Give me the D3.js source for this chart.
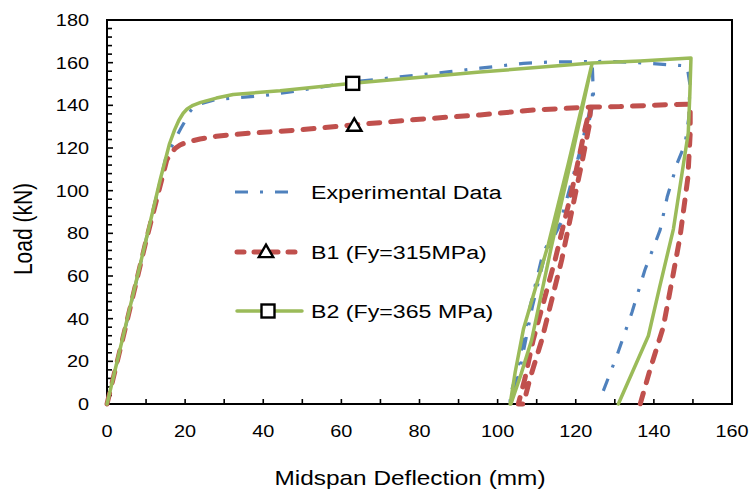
<!DOCTYPE html>
<html>
<head>
<meta charset="utf-8">
<script src="https://cdn.jsdelivr.net/npm/d3@7/dist/d3.min.js"></script>
<style>
  body { margin: 0; background: #fff; }
  svg { display: block; font-family: "Liberation Sans", Arial, sans-serif; }
</style>
</head>
<body>
<div id="chart"></div>
<script>
// values (deflection in mm, load in kN)
const expDefl = [0, 5, 10, 15, 17.8, 19, 20, 21, 22.1, 24, 28, 33.2, 39.2, 46, 63, 87.8, 95.5, 106.6, 113.4, 124.2,
  124.4, 124.2, 121, 116.5, 111.6, 108.3, 104.9, 102.8,
  103.4, 105.5, 108.9, 112.2, 117.1, 121.6, 124.6, 124.2,
  128, 136, 144, 148.5, 149.2, 149, 148, 146, 143.4, 141.6, 137.7, 134.4, 130.6, 126.6];
const expLoad = [0, 38, 77, 115, 125.3, 129.5, 132.7, 136.5, 139, 140.8, 142.8, 143.6, 144.4, 146, 151, 155.8, 157.4, 159.7, 160.3, 160.5,
  150, 142, 118, 88, 70.6, 45.6, 14.5, 1.5,
  1.5, 14.5, 45.6, 70.6, 88, 118, 142, 160.5,
  160.6, 160, 159, 158.5, 150, 135, 122, 113, 97, 81.6, 62.8, 43, 23, 4];

const b1Defl = [0, 5, 10, 15.3, 16.5, 17.5, 18.7, 20.5, 23.8, 28, 34, 48.6, 63, 80, 95.5, 109.1, 123.8,
  123.5, 121.9, 120.3, 116.4, 111.3, 108.3, 106.6,
  105.3, 107, 109.1, 114.7, 119, 122.5, 123.8,
  131.3, 143.3, 149.3, 149.3, 148.7, 146.7, 145, 142.4, 139, 136.5];
const b1Load = [0, 38, 76.5, 114.4, 117.8, 119.9, 121.4, 122.8, 124.2, 125.5, 126.6, 128.4, 130.8, 133.5, 135.5, 137.8, 139.2,
  131, 116, 102, 67.5, 30, 12, 0,
  0, 12, 30, 67.5, 100, 130, 139.2,
  139.4, 140.3, 140.6, 127, 106, 78.4, 61.4, 36, 16, 0];

const b2Defl = [0, 5, 10, 13.6, 16, 17.3, 18.4, 19.5, 20.5, 22, 24, 28, 32.3, 44.3, 62.9, 95.5, 124.2,
  118, 113, 106.6, 104.5, 103.2,
  103.4, 106, 108.7, 113.8, 119, 124.2,
  136.5, 149.5, 149.2, 148.8, 145, 141.5, 138.6, 130.9];
const b2Load = [0, 38.5, 77, 105, 122, 128.5, 133, 136.3, 138.3, 140, 141.4, 143.4, 145.1, 146.8, 150.3, 155.6, 159.8,
  112, 75, 35, 15, 0,
  0, 14, 30, 74, 116, 159.8,
  160.8, 162.2, 145, 127, 82, 55, 32, 0];

// single marker per model series
const b1Marker = [63.3, 130.5];
const b2Marker = [62.9, 150.3];

const xTicks = [0, 20, 40, 60, 80, 100, 120, 140, 160];
const yTicks = [0, 20, 40, 60, 80, 100, 120, 140, 160, 180];
const xMinor = d3.range(0, 161, 10);
const yMinor = d3.range(0, 181, 4);

const seriesNames = ["Experimental Data", "B1 (Fy=315MPa)", "B2 (Fy=365 MPa)"];

const W = 752, H = 490;
const stretch = 1.22; // the reference text is drawn wider than normal

const svg = d3.select("#chart").append("svg")
  .attr("width", W)
  .attr("height", H);

const x = d3.scaleLinear().domain([0, 160]).range([107, 732]);
const y = d3.scaleLinear().domain([0, 180]).range([404, 20]);

// wide text helper
function label(parent, px, py, str, size, anchor, rot) {
  const g = parent.append("g")
    .attr("transform", `translate(${px},${py}) scale(${stretch},1)` + (rot ? ` rotate(${rot})` : ""));
  return g.append("text")
    .attr("text-anchor", anchor || "start")
    .style("font-size", size + "px")
    .attr("fill", "#000")
    .text(str);
}

// minor + major ticks (inside)
const ticks = svg.append("g").attr("stroke", "#000").attr("stroke-width", 1.6);
yMinor.forEach(v => {
  const len = v % 20 === 0 ? 6 : 5;
  ticks.append("line").attr("x1", x(0)).attr("x2", x(0) + len).attr("y1", y(v)).attr("y2", y(v));
});
xMinor.forEach(v => {
  ticks.append("line").attr("x1", x(v)).attr("x2", x(v)).attr("y1", y(0)).attr("y2", y(0) - 5);
});

// frame
svg.append("rect")
  .attr("x", x(0)).attr("y", y(180))
  .attr("width", x(160) - x(0)).attr("height", y(0) - y(180))
  .attr("fill", "none").attr("stroke", "#000").attr("stroke-width", 2);

// tick labels
xTicks.forEach(v => label(svg, x(v), 437, v, 16.3, "middle"));
yTicks.forEach(v => label(svg, 89, y(v) + 6, v, 16.3, "end"));

// axis titles
label(svg, 410, 485, "Midspan Deflection (mm)", 20, "middle");
label(svg, 32, 229, "Load (kN)", 21, "middle", -90);

const line = d3.line().x(d => x(d[0])).y(d => y(d[1]));
const zip = (a, b) => a.map((v, i) => [v, b[i]]);

const styles = [
  { color: "#4F81BD", width: 3.2, dash: "13,12,3,12", cap: "butt" },
  { color: "#C0504D", width: 5, dash: "11,11", cap: "round" },
  { color: "#9BBB59", width: 3.5, dash: null, cap: "round" }
];
const series = [zip(expDefl, expLoad), zip(b1Defl, b1Load), zip(b2Defl, b2Load)];

series.forEach((pts, i) => {
  const s = styles[i];
  svg.append("path")
    .datum(pts)
    .attr("d", line)
    .attr("fill", "none")
    .attr("stroke", s.color)
    .attr("stroke-width", s.width)
    .attr("stroke-linejoin", "round")
    .attr("stroke-linecap", s.cap)
    .attr("stroke-dasharray", s.dash);
});

// markers
function triangle(px, py) {
  svg.append("path")
    .attr("d", d3.symbol().type(d3.symbolTriangle).size(90)())
    .attr("transform", `translate(${px},${py + 1})`)
    .attr("fill", "#fff").attr("stroke", "#000").attr("stroke-width", 2.4);
}
function square(px, py) {
  svg.append("rect")
    .attr("x", px - 6.5).attr("y", py - 6.5)
    .attr("width", 13).attr("height", 13)
    .attr("fill", "#fff").attr("stroke", "#000").attr("stroke-width", 2.4);
}
triangle(x(b1Marker[0]), y(b1Marker[1]));
square(x(b2Marker[0]), y(b2Marker[1]));

// legend
const legY = [192, 252, 311];
seriesNames.forEach((name, i) => {
  const s = styles[i];
  svg.append("line")
    .attr("x1", i === 0 ? 235 : 237).attr("x2", i === 0 ? 293 : 302)
    .attr("y1", legY[i]).attr("y2", legY[i])
    .attr("stroke", s.color)
    .attr("stroke-width", s.width)
    .attr("stroke-linecap", s.cap)
    .attr("stroke-dasharray", i === 1 ? "7,10" : s.dash);
  label(svg, 311, legY[i] + 7, name, 19, "start");
});
triangle(266, legY[1]);
square(268, legY[2]);
</script>
</body>
</html>
